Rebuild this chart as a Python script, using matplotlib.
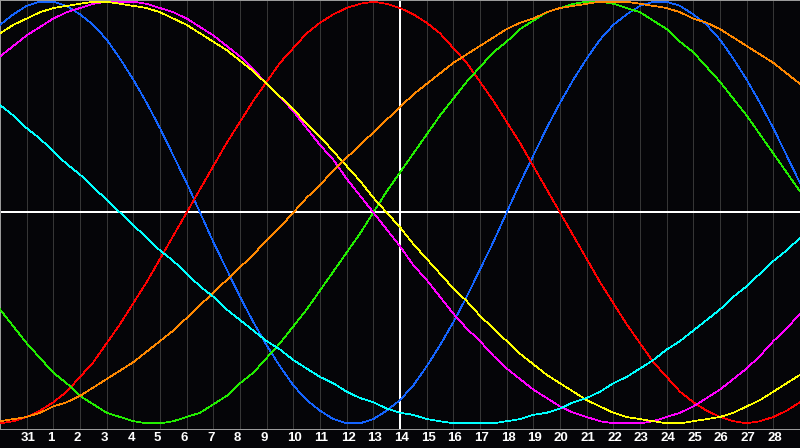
import numpy as np
import matplotlib
matplotlib.use('Agg')
import matplotlib.pyplot as plt
import matplotlib.transforms as mtransforms

# biorhythm values in percent, read every half day from day 30 to day 29 of the shown range
physical = [89, 94, 98, 100, 100, 98, 94, 89, 82, 73, 63, 52, 40, 27, 14, 0, -14, -27, -40, -52, -63, -73, -82, -89, -94, -98, -100, -100, -98, -94, -89, -82, -73, -63, -52, -40, -27, -14, 0, 14, 27, 40, 52, 63, 73, 82, 89, 94, 98, 100, 100, 98, 94, 89, 82, 73, 63, 52, 40, 27, 14]
emotional = [-100, -99, -97, -94, -90, -85, -78, -71, -62, -53, -43, -33, -22, -11, 0, 11, 22, 33, 43, 53, 62, 71, 78, 85, 90, 94, 97, 99, 100, 99, 97, 94, 90, 85, 78, 71, 62, 53, 43, 33, 22, 11, 0, -11, -22, -33, -43, -53, -62, -71, -78, -85, -90, -94, -97, -99, -100, -99, -97, -94, -90]
intellectual = [-46, -54, -62, -69, -76, -81, -87, -91, -95, -97, -99, -100, -100, -99, -97, -95, -91, -87, -81, -76, -69, -62, -54, -46, -37, -28, -19, -10, 0, 10, 19, 28, 37, 46, 54, 62, 69, 76, 81, 87, 91, 95, 97, 99, 100, 100, 99, 97, 95, 91, 87, 81, 76, 69, 62, 54, 46, 37, 28, 19, 10]
intuitive = [74, 79, 84, 88, 92, 95, 97, 99, 100, 100, 100, 99, 97, 95, 92, 88, 84, 79, 74, 68, 61, 55, 48, 40, 32, 25, 16, 8, 0, -8, -16, -25, -32, -40, -48, -55, -61, -68, -74, -79, -84, -88, -92, -95, -97, -99, -100, -100, -100, -99, -97, -95, -92, -88, -84, -79, -74, -68, -61, -55, -48]
aesthetic = [85, 89, 92, 95, 97, 98, 99, 100, 100, 99, 98, 97, 95, 92, 89, 85, 81, 77, 72, 67, 61, 55, 49, 42, 36, 29, 22, 15, 7, 0, -7, -15, -22, -29, -36, -42, -49, -55, -61, -67, -72, -77, -81, -85, -89, -92, -95, -97, -98, -99, -100, -100, -99, -98, -97, -95, -92, -89, -85, -81, -77]
awareness = [-99, -98, -97, -95, -92, -90, -87, -83, -79, -75, -71, -66, -61, -56, -50, -44, -38, -32, -26, -20, -13, -7, 0, 7, 13, 20, 26, 32, 38, 44, 50, 56, 61, 66, 71, 75, 79, 83, 87, 90, 92, 95, 97, 98, 99, 100, 100, 100, 99, 98, 97, 95, 92, 90, 87, 83, 79, 75, 71, 66, 61]
spiritual = [51, 46, 40, 35, 29, 23, 18, 12, 6, 0, -6, -12, -18, -23, -29, -35, -40, -46, -51, -56, -61, -65, -70, -74, -78, -81, -85, -88, -90, -93, -95, -96, -98, -99, -100, -100, -100, -100, -99, -98, -96, -95, -93, -90, -88, -85, -81, -78, -74, -70, -65, -61, -56, -51, -46, -40, -35, -29, -23, -18, -12]

day_labels = ['31'] + [str(d) for d in range(1, 29)]
today_label = '14'

series = [
    (physical, '#1464ff'),
    (emotional, '#ff0000'),
    (intellectual, '#22ee00'),
    (intuitive, '#ff00ff'),
    (aesthetic, '#ffff00'),
    (awareness, '#ff8800'),
    (spiritual, '#00ffff'),
]

bg = '#050508'
fig = plt.figure(figsize=(8, 4.48), dpi=100, facecolor=bg)
ax = fig.add_axes([0, 19 / 448, 1, 429 / 448])
ax.set_facecolor(bg)

# one sample every half day
t = np.arange(len(physical)) / 2

grid_x = np.arange(1, len(day_labels) + 1)
for gx in grid_x:
    ax.axvline(gx, color='#363636', lw=0.5, antialiased=False, zorder=1)
ax.axhline(0, color='white', lw=1.44, antialiased=False, zorder=2)
ax.axvline(grid_x[day_labels.index(today_label)], color='white', lw=1.44,
           antialiased=False, zorder=2)

for vals, col in series:
    ax.plot(t, vals, color=col, lw=0.5, antialiased=False, zorder=3)

ax.set_xlim(0, t[-1])
ax.set_ylim(-102.7, 100.8)
ax.set_yticks([])
ax.set_xticks(grid_x)
ax.set_xticklabels(day_labels, fontfamily='Liberation Sans', fontweight='bold',
                   fontsize=9.5, color='white')
ax.tick_params(axis='x', length=0, pad=2.5)
# labels start a little left of their grid line
shift = mtransforms.ScaledTranslation(-6 / 100, 0, fig.dpi_scale_trans)
for lab in ax.get_xticklabels():
    lab.set_ha('left')
    lab.set_transform(lab.get_transform() + shift)
for s in ax.spines.values():
    s.set_color('#9a9a9a')
    s.set_linewidth(0.72)

fig.savefig('out.png', dpi=100, facecolor=bg)
